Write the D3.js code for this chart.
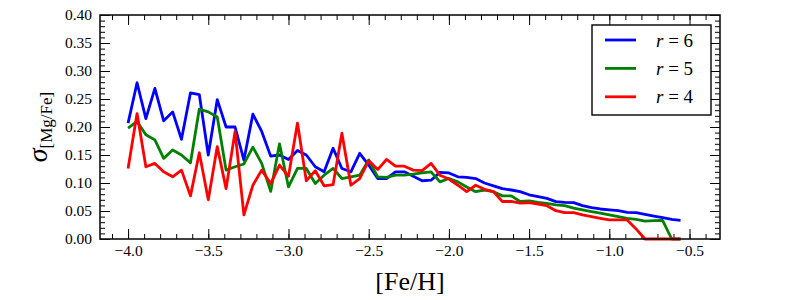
<!DOCTYPE html>
<html><head><meta charset="utf-8">
<script src="https://cdn.jsdelivr.net/npm/d3@7"></script>
<style>body{margin:0;background:#fff} text{font-family:"Liberation Serif","DejaVu Serif","Noto Serif","FreeSerif","Tinos","Times New Roman",Times,serif !important;}</style>
</head><body>
<svg id="c" width="800" height="300"></svg>
<script>
const feh = [-4.000,-3.944,-3.889,-3.833,-3.778,-3.722,-3.667,-3.611,-3.556,-3.500,
  -3.444,-3.389,-3.333,-3.278,-3.222,-3.167,-3.111,-3.056,-3.000,-2.944,
  -2.889,-2.833,-2.778,-2.722,-2.667,-2.611,-2.556,-2.500,-2.444,-2.389,
  -2.333,-2.278,-2.222,-2.167,-2.111,-2.056,-2.000,-1.944,-1.889,-1.833,
  -1.778,-1.722,-1.667,-1.611,-1.556,-1.500,-1.444,-1.389,-1.333,-1.278,
  -1.222,-1.167,-1.111,-1.056,-1.000,-0.944,-0.889,-0.833,-0.778,-0.722,
  -0.667,-0.611,-0.556];
const r6 = [0.207,0.279,0.215,0.269,0.211,0.227,0.178,0.261,0.258,0.150,
  0.249,0.200,0.200,0.141,0.223,0.192,0.148,0.150,0.142,0.158,
  0.150,0.129,0.120,0.162,0.126,0.120,0.153,0.132,0.108,0.108,
  0.120,0.120,0.112,0.104,0.105,0.119,0.118,0.111,0.110,0.108,
  0.100,0.095,0.090,0.0875,0.0845,0.079,0.0756,0.0726,0.0667,0.0655,
  0.065,0.0595,0.056,0.0536,0.052,0.0506,0.0476,0.047,0.044,0.041,
  0.038,0.035,0.0333];
const r5 = [0.198,0.210,0.186,0.177,0.144,0.159,0.150,0.136,0.232,0.227,
  0.218,0.123,0.129,0.134,0.164,0.135,0.085,0.170,0.093,0.126,
  0.126,0.099,0.114,0.126,0.108,0.111,0.114,0.141,0.111,0.110,
  0.114,0.114,0.116,0.118,0.120,0.102,0.108,0.102,0.093,0.0845,
  0.0875,0.0845,0.077,0.077,0.067,0.068,0.0655,0.0637,0.061,0.0595,
  0.055,0.052,0.049,0.046,0.043,0.040,0.037,0.035,0.032,0.0327,
  0.033,0,0];
const r4 = [0.126,0.224,0.129,0.135,0.120,0.111,0.123,0.077,0.154,0.070,
  0.165,0.090,0.192,0.043,0.096,0.123,0.099,0.132,0.112,0.207,
  0.104,0.122,0.095,0.097,0.189,0.096,0.108,0.140,0.124,0.142,
  0.130,0.130,0.123,0.122,0.135,0.114,0.107,0.096,0.0845,0.096,
  0.0887,0.0845,0.067,0.067,0.064,0.065,0.0625,0.0595,0.0506,0.047,
  0.047,0.043,0.040,0.037,0.034,0.034,0.034,0.018,0,0,
  0,0,0];
const seriesNames = ["r = 6","r = 5","r = 4"];
const seriesColors = ["#0000ff","#008000","#ff0000"];
const xTicks = [-4.0,-3.5,-3.0,-2.5,-2.0,-1.5,-1.0,-0.5];
const yTicks = [0.00,0.05,0.10,0.15,0.20,0.25,0.30,0.35,0.40];

const L=100,R=720,T=15,B=239;
const svg = d3.select("#c");
const x = d3.scaleLinear().domain([-4.175,-0.31]).range([L,R]);
const y = d3.scaleLinear().domain([0,0.4]).range([B,T]);

const xMinor = d3.range(-41,-3).map(v=>v/10).filter(v=>x(v)>=L&&x(v)<=R);
const yMinor = d3.range(0,41).map(v=>v/100);

function styleAxis(g){
  g.attr("font-family",null);
  g.select(".domain").remove();
  g.selectAll("line").attr("stroke","#000").attr("stroke-width",1);
  g.selectAll("text").attr("font-size",15.5).attr("fill","#000");
}
// bottom
svg.append("g").attr("transform",`translate(0,${B})`)
  .call(d3.axisBottom(x).tickValues(xMinor).tickSize(-5).tickFormat("")).call(styleAxis);
svg.append("g").attr("transform",`translate(0,${B})`)
  .call(d3.axisBottom(x).tickValues(xTicks).tickSize(-10).tickPadding(6).tickFormat(d3.format(".1f"))).call(styleAxis);
// top
svg.append("g").attr("transform",`translate(0,${T})`)
  .call(d3.axisTop(x).tickValues(xMinor).tickSize(-5).tickFormat("")).call(styleAxis);
svg.append("g").attr("transform",`translate(0,${T})`)
  .call(d3.axisTop(x).tickValues(xTicks).tickSize(-10).tickFormat("")).call(styleAxis);
// left
svg.append("g").attr("transform",`translate(${L},0)`)
  .call(d3.axisLeft(y).tickValues(yMinor).tickSize(-5).tickFormat("")).call(styleAxis);
svg.append("g").attr("transform",`translate(${L},0)`)
  .call(d3.axisLeft(y).tickValues(yTicks).tickSize(-10).tickPadding(8).tickFormat(d3.format(".2f"))).call(styleAxis);
// right
svg.append("g").attr("transform",`translate(${R},0)`)
  .call(d3.axisRight(y).tickValues(yMinor).tickSize(-5).tickFormat("")).call(styleAxis);
svg.append("g").attr("transform",`translate(${R},0)`)
  .call(d3.axisRight(y).tickValues(yTicks).tickSize(-10).tickFormat("")).call(styleAxis);

// lines
const line = d3.line().x(d=>x(d[0])).y(d=>y(d[1]));
[r6,r5,r4].forEach((s,i)=>{
  svg.append("path").datum(feh.map((f,j)=>[f,s[j]]))
    .attr("d",line).attr("fill","none").attr("stroke",seriesColors[i])
    .attr("stroke-width",2.8).attr("stroke-linejoin","round").attr("stroke-linecap","butt");
});

// spine
svg.append("rect").attr("x",L).attr("y",T).attr("width",R-L).attr("height",B-T)
  .attr("fill","none").attr("stroke","#111").attr("stroke-width",1.6);

// legend
const lg = svg.append("g");
lg.append("rect").attr("x",592).attr("y",25).attr("width",119).attr("height",90)
  .attr("fill","#fff").attr("stroke","#000").attr("stroke-width",1.4);
seriesNames.forEach((n,i)=>{
  const yy = 40 + i*28.4;
  lg.append("line").attr("x1",605).attr("x2",636).attr("y1",yy).attr("y2",yy)
    .attr("stroke",seriesColors[i]).attr("stroke-width",2.8);
  const t = lg.append("text").attr("x",656).attr("y",yy+6.5)
    .attr("font-size",19).attr("fill","#000");
  const parts = n.split(" = ");
  t.append("tspan").attr("font-style","italic").text(parts[0]);
  t.append("tspan").text(" = " + parts[1]);
});

// axis labels
svg.append("text").attr("x",(L+R)/2).attr("y",290).attr("text-anchor","middle")
  .attr("font-size",26).text("[Fe/H]");
const yl = svg.append("text").attr("transform",`translate(47,127) rotate(-90)`)
  .attr("text-anchor","middle");
yl.append("tspan").attr("font-style","italic").attr("font-size",28).text("σ");
yl.append("tspan").attr("font-size",17).attr("dy",5).text("[Mg/Fe]");
</script>
</body></html>
